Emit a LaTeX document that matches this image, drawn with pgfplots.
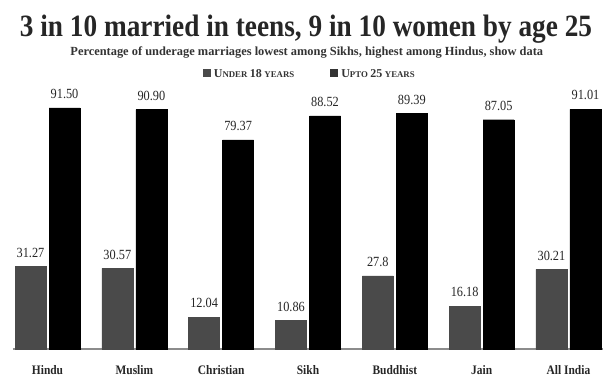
\documentclass[border=0pt]{standalone}
\usepackage{pgfplots}
\pgfplotsset{compat=1.18}
\usepackage{fontspec}
\setmainfont{Liberation Serif}
\newfontfamily\titlefont[FakeStretch=0.88]{Liberation Serif}
\definecolor{greybar}{HTML}{4A4A4A}
\newcommand{\bigc}[1]{{\fontsize{12}{12}\selectfont #1}}
\newcommand{\smc}[1]{{\fontsize{8.8}{8.8}\selectfont #1}}
\begin{document}
\begin{tikzpicture}[x=1pt,y=1pt]
\useasboundingbox (-12.8,-35) rectangle (600.2,349);
\begin{axis}[
  at={(0,0)}, anchor=south west,
  scale only axis, width=590.4pt, height=263.4pt,
  xmin=-0.4, xmax=6.4, ymin=0, ymax=100,
  axis y line=none, axis x line*=bottom,
  x axis line style={draw=black!45, line width=1.2pt},
  xtick={0,1,2,3,4,5,6},
  xticklabels={Hindu,Muslim,Christian,Sikh,Buddhist,Jain,All India},
  xtick style={draw=none},
  xticklabel style={font=\fontsize{13}{13}\selectfont\titlefont\bfseries, yshift=-9pt, text=black!85},
  ybar, bar width=0.357,
  clip=false,
  nodes near coords,
  nodes near coords style={font=\fontsize{14}{14}\selectfont\titlefont, text=black!85, anchor=south, inner sep=0pt, yshift=9pt},
]
\addplot[fill=greybar, draw=greybar, bar shift=-0.196,
  point meta=explicit symbolic]
  coordinates {(0,31.27)[31.27] (1,30.57)[30.57] (2,12.04)[12.04] (3,10.86)[10.86] (4,27.8)[27.8] (5,16.18)[16.18] (6,30.21)[30.21]};
\addplot[fill=black, draw=black, bar shift=0.196,
  point meta=explicit symbolic]
  coordinates {(0,91.50)[91.50] (1,90.90)[90.90] (2,79.37)[79.37] (3,88.52)[88.52] (4,89.39)[89.39] (5,87.05)[87.05] (6,91.01)[91.01]};
\end{axis}
\node[anchor=base, font=\fontsize{31}{31}\selectfont\titlefont\bfseries, text=black!85] at (293.2,313) {3 in 10 married in teens, 9 in 10 women by age 25};
\node[anchor=base, font=\fontsize{12.4}{12.4}\selectfont\bfseries, text=black!80] at (294,294) {Percentage of underage marriages lowest among Sikhs, highest among Hindus, show data};
\node[anchor=base, font=\bfseries, text=black!80, inner sep=0pt] at (296,272) {{\color{greybar}\rule{8pt}{8pt}}\hspace{3pt}\bigc{U}\smc{NDER} \bigc{18} \smc{YEARS}\hspace{36pt}\rule{8pt}{8pt}\hspace{3pt}\bigc{U}\smc{PTO} \bigc{25} \smc{YEARS}};
\end{tikzpicture}
\end{document}
